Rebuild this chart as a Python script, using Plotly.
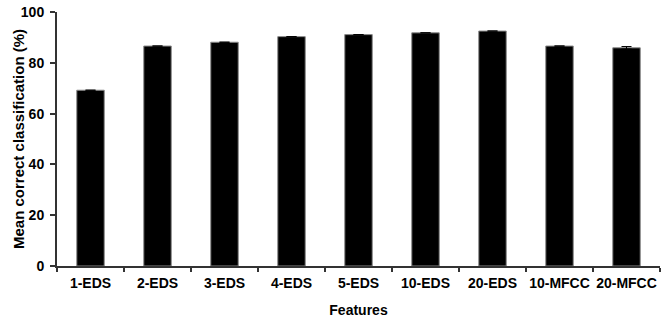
import plotly.graph_objects as go

categories = ["1-EDS", "2-EDS", "3-EDS", "4-EDS", "5-EDS", "10-EDS", "20-EDS", "10-MFCC", "20-MFCC"]
values = [69.2, 86.6, 88.1, 90.3, 91.1, 91.8, 92.5, 86.6, 85.9]
errors = [0, 0, 0, 0, 0, 0, 0, 0, 0.5]
y_ticks = [0, 20, 40, 60, 80, 100]
y_title = "Mean correct classification (%)"

font = "Liberation Sans, Arial, sans-serif"

fig = go.Figure(go.Bar(
    x=categories, y=values,
    width=0.41,
    marker=dict(color="black", line=dict(color="#8a8a8a", width=1)),
    error_y=dict(type="data", array=errors, visible=True, color="black", thickness=1, width=5),
))

fig.update_layout(
    width=661, height=320,
    margin=dict(l=57, r=1, t=12, b=54, autoexpand=False),
    paper_bgcolor="white", plot_bgcolor="white",
    showlegend=False,
    font=dict(family=font, size=14, color="black"),
)
fig.add_annotation(
    text="<b>" + y_title + "</b>", textangle=-90,
    xref="paper", yref="paper", x=0, y=0.5, xanchor="center", yanchor="middle",
    xshift=-39, showarrow=False, font=dict(family=font, size=15, color="black"),
)
fig.update_xaxes(
    type="category", tickangle=0, automargin=False,
    showline=True, linecolor="#333", linewidth=2,
    ticks="outside", tickson="boundaries", ticklen=4, tickwidth=1.5, tickcolor="#333",
    ticklabelstandoff=3,
    tickfont=dict(family=font, size=14, color="black", weight="bold"),
    title=dict(text="<b>Features</b>", font=dict(family=font, size=14)),
    showgrid=False, zeroline=False,
)
fig.update_yaxes(
    range=[0, 100], tickvals=y_ticks, automargin=False,
    showline=True, linecolor="#333", linewidth=2,
    ticks="outside", ticklen=5, tickwidth=1.5, tickcolor="#333",
    ticklabelstandoff=3,
    tickfont=dict(family=font, size=14, color="black", weight="bold"),
    showgrid=False, zeroline=False,
)

fig.write_html("out.html", config={"displayModeBar": False},
               post_script="document.body.style.margin='0px';")
